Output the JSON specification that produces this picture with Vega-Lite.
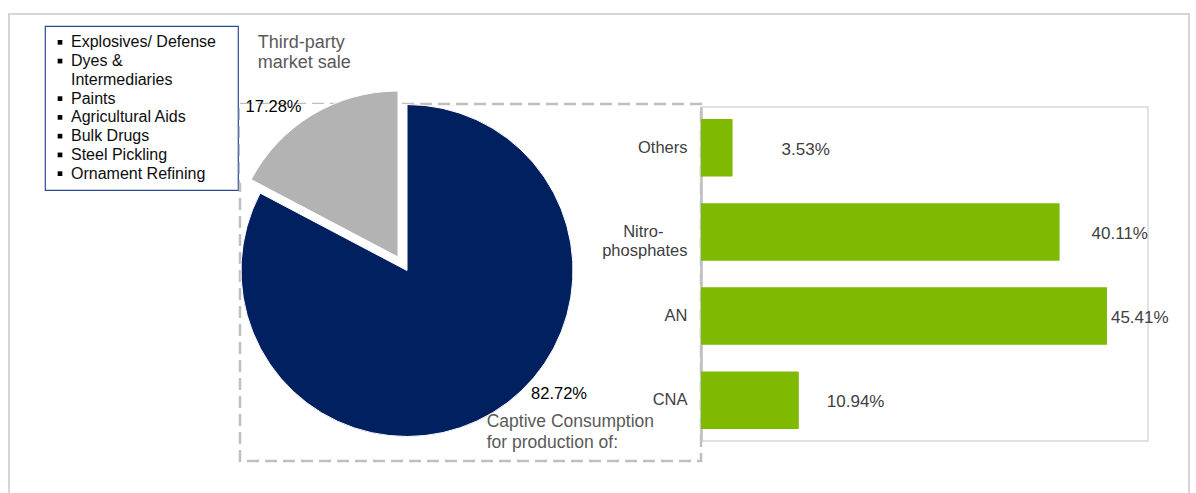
{
  "$schema": "https://vega.github.io/schema/vega-lite/v6.json",
  "background": "white",
  "padding": {"left": 8, "top": 13, "right": 0, "bottom": 0},
  "config": {"view": {"stroke": null}, "font": "Liberation Sans"},
  "bounds": "flush",
  "spacing": 0,
  "hconcat": [
    {
      "bounds": "flush",
      "vconcat": [
        {"width": 1180, "height": 490, "view": {"stroke": "#d6d6d6", "strokeWidth": 2}, "data": {"values": []}, "mark": "point"}
      ]
    },
    {"width": 36, "height": 1, "data": {"values": []}, "mark": "point"},
    {
      "bounds": "flush",
      "spacing": 0,
      "vconcat": [
        {"width": 193, "height": 12, "data": {"values": []}, "mark": "point"},
        {
          "width": 193,
          "height": 164,
          "view": {"stroke": "#2B4A94", "strokeWidth": 1.2},
          "data": {"values": [
            {"line": "Explosives/ Defense", "bullet": true},
            {"line": "Dyes &", "bullet": true},
            {"line": "Intermediaries", "bullet": false},
            {"line": "Paints", "bullet": true},
            {"line": "Agricultural Aids", "bullet": true},
            {"line": "Bulk Drugs", "bullet": true},
            {"line": "Steel Pickling", "bullet": true},
            {"line": "Ornament Refining", "bullet": true}
          ]},
          "encoding": {
            "y": {"field": "line", "type": "nominal", "sort": null, "axis": null, "scale": {"type": "point", "padding": 0.87}}
          },
          "layer": [
            {
              "mark": {"type": "point", "shape": "square", "filled": true, "size": 22, "color": "#000000"},
              "encoding": {
                "x": {"value": 15},
                "opacity": {"condition": {"test": "datum.bullet", "value": 1}, "value": 0}
              }
            },
            {
              "mark": {"type": "text", "align": "left", "baseline": "middle", "fontSize": 16, "color": "#0d0d0d"},
              "encoding": {"x": {"value": 26}, "text": {"field": "line"}}
            }
          ]
        }
      ]
    },
    {"width": 195, "height": 1, "data": {"values": []}, "mark": "point"},
    {
      "bounds": "flush",
      "spacing": 0,
      "vconcat": [
        {"width": 461, "height": 90, "data": {"values": []}, "mark": "point"},
        {
          "width": 461,
          "height": 357,
          "view": {"stroke": "#bfbfbf", "strokeWidth": 2.5, "strokeDash": [12, 6]},
          "data": {"values": [
            {"segment": "Captive Consumption", "label": "Captive Consumption\nfor production of:", "share": 0.8272},
            {"segment": "Third-party market sale", "label": "Third-party\nmarket sale", "share": 0.1728}
          ]},
          "encoding": {
            "theta": {"field": "share", "type": "quantitative", "stack": true},
            "order": {"field": "share", "type": "quantitative", "sort": "descending"}
          },
          "layer": [
            {
              "mark": {"type": "arc", "x": 167, "y": 166.5, "radius": 250, "fill": "white", "clip": true},
              "encoding": {"opacity": {"condition": {"test": "datum.segment === 'Third-party market sale'", "value": 1}, "value": 0}}
            },
            {
              "mark": {"type": "arc", "x": 167, "y": 166.5, "radius": 166, "fill": "#002060", "stroke": "white", "strokeWidth": 1},
              "encoding": {"opacity": {"condition": {"test": "datum.segment === 'Captive Consumption'", "value": 1}, "value": 0}}
            },
            {
              "mark": {"type": "arc", "x": 158, "y": 153, "radius": 166, "fill": "#b3b3b3", "stroke": "white", "strokeWidth": 1},
              "encoding": {"opacity": {"condition": {"test": "datum.segment === 'Third-party market sale'", "value": 1}, "value": 0}}
            },
            {
              "mark": {"type": "text", "x": 167, "y": 166.5, "radius": 208, "dx": -26, "dy": 15, "align": "center", "baseline": "middle", "fontSize": 16.5, "color": "#000000"},
              "encoding": {
                "text": {"field": "share", "type": "quantitative", "format": ".2%"},
                "opacity": {"condition": {"test": "datum.segment === 'Third-party market sale'", "value": 1}, "value": 0}
              }
            },
            {
              "mark": {"type": "text", "x": 167, "y": 166.5, "radius": 184, "dx": 57, "dy": -34, "align": "center", "baseline": "middle", "fontSize": 16.5, "color": "#000000"},
              "encoding": {
                "text": {"field": "share", "type": "quantitative", "format": ".2%"},
                "opacity": {"condition": {"test": "datum.segment === 'Captive Consumption'", "value": 1}, "value": 0}
              }
            },
            {
              "mark": {"type": "text", "x": 167, "y": 166.5, "radius": 267.5, "dx": -11, "dy": 7, "align": "left", "baseline": "alphabetic", "lineBreak": "\n", "lineHeight": 19.5, "fontSize": 18, "color": "#595959"},
              "encoding": {
                "text": {"field": "label"},
                "opacity": {"condition": {"test": "datum.segment === 'Third-party market sale'", "value": 1}, "value": 0}
              }
            },
            {
              "mark": {"type": "text", "x": 167, "y": 166.5, "radius": 177.5, "dx": -12, "dy": 5, "align": "left", "baseline": "alphabetic", "lineBreak": "\n", "lineHeight": 21, "fontSize": 17.5, "color": "#595959"},
              "encoding": {
                "text": {"field": "label"},
                "opacity": {"condition": {"test": "datum.segment === 'Captive Consumption'", "value": 1}, "value": 0}
              }
            }
          ]
        }
      ]
    },
    {"width": 461, "height": 1, "data": {"values": []}, "mark": "point"},
    {
      "bounds": "flush",
      "spacing": 0,
      "vconcat": [
        {"width": 446, "height": 93, "data": {"values": []}, "mark": "point"},
        {
          "width": 447,
          "height": 334,
          "view": {"stroke": "#d9d9d9", "strokeWidth": 1.5},
          "data": {"values": [
            {"use": "Others", "share": 0.0353},
            {"use": "Nitrophosphates", "share": 0.4011},
            {"use": "AN", "share": 0.4541},
            {"use": "CNA", "share": 0.1094}
          ]},
          "encoding": {
            "y": {
              "field": "use", "type": "nominal", "sort": null,
              "scale": {"paddingInner": 0.317, "paddingOuter": 0.142},
              "axis": {
                "title": null, "ticks": false, "labelPadding": 14, "labelFontSize": 16.5,
                "labelColor": "#404040", "labelFont": "Liberation Sans", "domainColor": "#bfbfbf",
                "domainWidth": 2.5, "labelLineHeight": 19.5, "grid": false,
                "labelExpr": "datum.value === 'Nitrophosphates' ? ['Nitro-\u2800\u2800', 'phosphates'] : datum.value"
              }
            },
            "x": {"field": "share", "type": "quantitative", "scale": {"domain": [0, 0.5], "nice": false}, "axis": null}
          },
          "layer": [
            {"mark": {"type": "bar", "color": "#7FBA00"}},
            {
              "mark": {"type": "text", "align": "left", "baseline": "middle", "dx": 49, "dy": 2, "fontSize": 17, "color": "#404040"},
              "encoding": {
                "text": {"field": "share", "type": "quantitative", "format": ".2%"},
                "opacity": {"condition": {"test": "datum.use === 'Others'", "value": 1}, "value": 0}
              }
            },
            {
              "mark": {"type": "text", "align": "left", "baseline": "middle", "dx": 32, "dy": 2, "fontSize": 17, "color": "#404040"},
              "encoding": {
                "text": {"field": "share", "type": "quantitative", "format": ".2%"},
                "opacity": {"condition": {"test": "datum.use === 'Nitrophosphates'", "value": 1}, "value": 0}
              }
            },
            {
              "mark": {"type": "text", "align": "left", "baseline": "middle", "dx": 4, "dy": 2, "fontSize": 17, "color": "#404040"},
              "encoding": {
                "text": {"field": "share", "type": "quantitative", "format": ".2%"},
                "opacity": {"condition": {"test": "datum.use === 'AN'", "value": 1}, "value": 0}
              }
            },
            {
              "mark": {"type": "text", "align": "left", "baseline": "middle", "dx": 28, "dy": 2, "fontSize": 17, "color": "#404040"},
              "encoding": {
                "text": {"field": "share", "type": "quantitative", "format": ".2%"},
                "opacity": {"condition": {"test": "datum.use === 'CNA'", "value": 1}, "value": 0}
              }
            }
          ]
        }
      ]
    }
  ]
}
